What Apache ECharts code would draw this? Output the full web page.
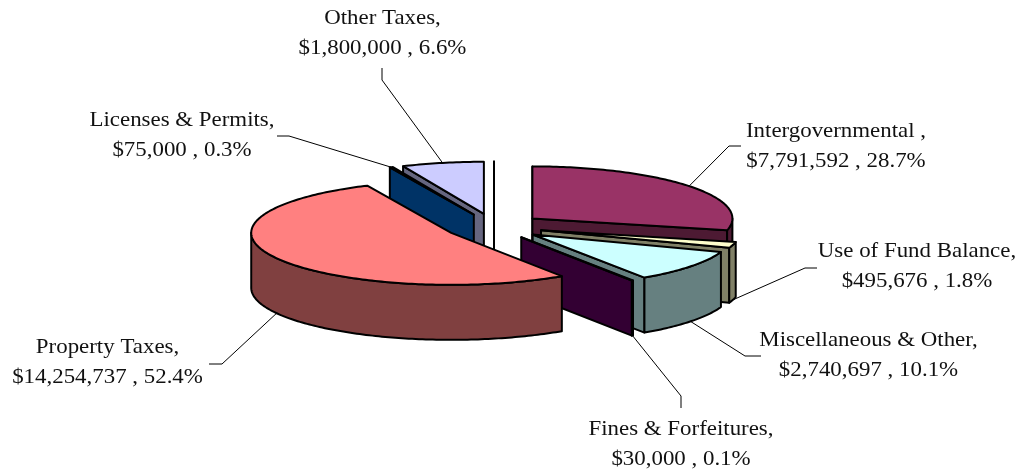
<!DOCTYPE html>
<html><head><meta charset="utf-8">
<style>html,body{margin:0;padding:0;background:#fff}#c{width:1018px;height:472px}</style>
<script src="https://cdn.jsdelivr.net/npm/echarts@6/dist/echarts.min.js"></script>
</head><body><div id="c"></div>
<script>
// Data, clockwise from 12 o'clock
const categories = ['Intergovernmental ,','Use of Fund Balance,','Miscellaneous & Other,','Fines & Forfeitures,','Property Taxes,','Licenses & Permits,','Other Taxes,',''];
const values = [7791592,495676,2740697,30000,14254737,75000,1800000,0];
const topColors = ['#993366','#FFFFCC','#CCFFFF','#660066','#FF8080','#0066CC','#CCCCFF','#FFFFFF'];
const sideColors = ['#4D1A33','#808066','#668080','#330033','#804040','#003366','#666680','#FFFFFF'];
// Back-to-front drawing order (indices into the arrays above)
const paintOrder = [7,6,5,0,1,2,3,4];
// Label centre and leader elbow
const labelLayout = [
  {cx:836,cy:146,ex:[741,729],ey:146},
  {cx:917,cy:266.5,ex:[817,805],ey:268},
  {cx:868.5,cy:355.5,ex:[761,745],ey:356},
  {cx:681,cy:444.5,ex:[681,681],ey:[408,396]},
  {cx:107.5,cy:362,ex:[209,222],ey:364},
  {cx:182,cy:135,ex:[277,289],ey:136},
  {cx:382.5,cy:33,ex:[382,382],ey:[68,80]},
  null
];
const CX=494, CY=226.5, RX=200, RY=52, EX=49, EY=13, DEPTH=55, D2R=Math.PI/180;
const total = values.reduce((a,b)=>a+b,0);
const starts=[]; let acc=0;
values.forEach(v=>{starts.push(acc/total*360); acc+=v;});

function renderItem(params, api){
  const i = api.value(1), value = api.value(0);
  const a1 = starts[i], a2 = a1 + value/total*360, mid=(a1+a2)/2;
  const ax = CX + EX*Math.sin(mid*D2R), ay = CY - EY*Math.cos(mid*D2R);
  const P = a => [ax+RX*Math.sin(a*D2R), ay-RY*Math.cos(a*D2R)];
  const down = p => [p[0], p[1]+DEPTH];
  const poly = (pts,fill)=>({type:'polygon',shape:{points:pts},style:{fill:fill,stroke:'#000',lineWidth:2,lineJoin:'round'}});
  const arc = (s,e)=>{const o=[];const n=Math.max(1,Math.ceil((e-s)/1));for(let k=0;k<=n;k++)o.push(P(s+(e-s)*k/n));return o;};
  const children=[];
  const A=[ax,ay];
  if(Math.sin(a1*D2R)<=1e-9){const p=P(a1);children.push(poly([A,p,down(p),down(A)],sideColors[i]));}
  if(Math.sin(a2*D2R)>0){const p=P(a2);children.push(poly([A,p,down(p),down(A)],sideColors[i]));}
  const fs=Math.max(a1,90), fe=Math.min(a2,270);
  if(fe>fs){const t=arc(fs,fe);children.push(poly(t.concat(t.map(down).reverse()),sideColors[i]));}
  children.push(poly([A].concat(arc(a1,a2)),topColors[i]));
  const L=labelLayout[i];
  if(L){
    let anchor=P(mid);
    if(mid>90&&mid<270)anchor=down(anchor);
    const ey=Array.isArray(L.ey)?L.ey:[L.ey,L.ey];
    children.push({type:'polyline',shape:{points:[[L.ex[0],ey[0]],[L.ex[1],ey[1]],anchor]},style:{fill:null,stroke:'#000',lineWidth:1}});
    const pct=(value/total*100).toFixed(1)+'%';
    const line2='$'+value.toLocaleString('en-US')+' , '+pct;
    children.push({type:'text',x:L.cx,y:L.cy,scaleX:1.09,z2:10,style:{text:categories[i]+'\n'+line2,font:'21px "Liberation Serif"',fill:'#111',align:'center',verticalAlign:'middle',textAlign:'center',textVerticalAlign:'middle',lineHeight:30}});
  }
  return {type:'group',children:children};
}
const chart=echarts.init(document.getElementById('c'),null,{renderer:'canvas'});
chart.setOption({
  animation:false,backgroundColor:'#fff',
  series:[{type:'custom',coordinateSystem:'none',renderItem:renderItem,silent:true,
    data:paintOrder.map(i=>[values[i],i])}]
});
</script></body></html>
